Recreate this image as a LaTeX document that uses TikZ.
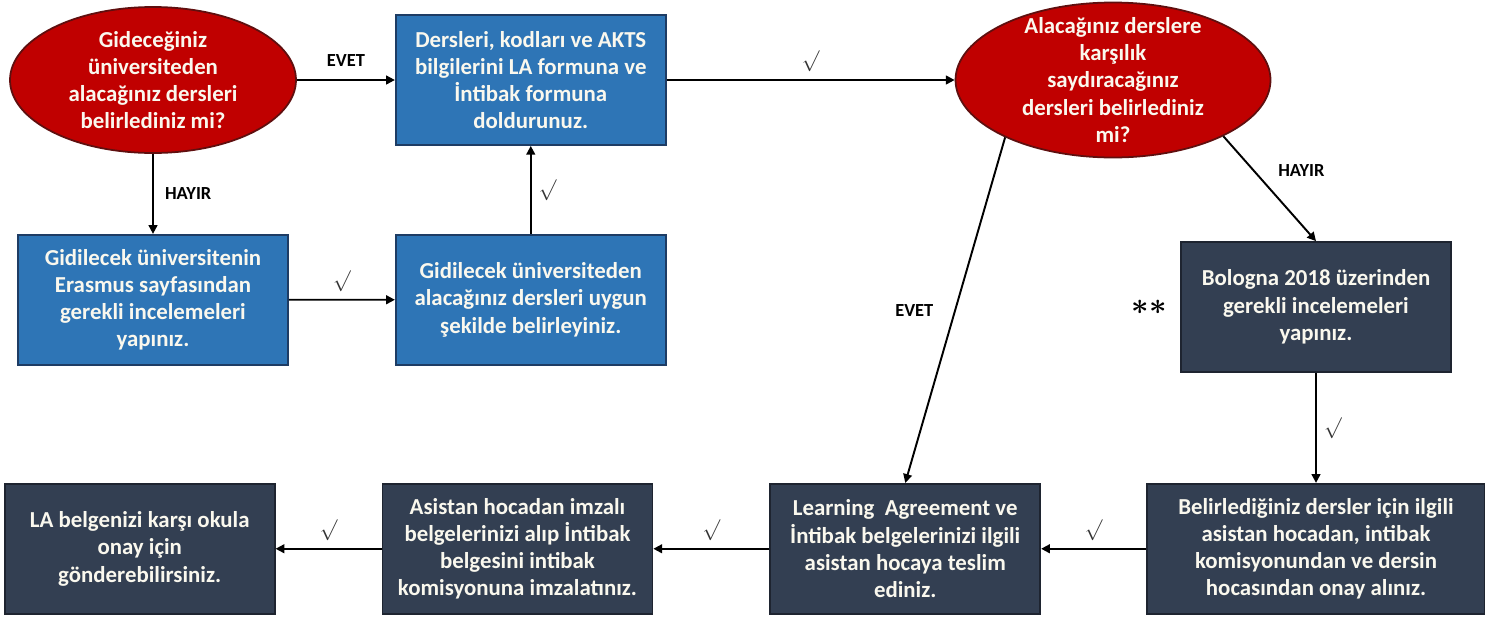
\documentclass[tikz,border=0pt]{standalone}
\usepackage{amsmath}
\usepackage{amssymb}
\usepackage{fontspec}
\setmainfont{Carlito}
\usetikzlibrary{arrows.meta,automata,positioning,shapes.geometric}
\definecolor{askred}{RGB}{192,0,0}
\definecolor{askredline}{RGB}{95,15,15}
\definecolor{stepblue}{RGB}{46,117,182}
\definecolor{stepblueline}{RGB}{30,60,100}
\definecolor{stepdark}{RGB}{51,63,82}
\definecolor{stepdarkline}{RGB}{30,36,48}
\definecolor{boxtext}{RGB}{250,248,238}
\tikzset{
  boxfont/.style={font=\bfseries\fontsize{13}{15.5}\selectfont, text=boxtext, align=center},
  ask/.style={state,ellipse,boxfont,draw=askredline,fill=askred,line width=1pt,
    inner xsep=0pt,inner ysep=-0.3cm},
  bluebox/.style={state,rectangle,boxfont,draw=stepblueline,fill=stepblue,line width=1pt,
    minimum width=5.4cm,minimum height=2.6cm,inner sep=2pt},
  darkbox/.style={state,rectangle,boxfont,draw=stepdarkline,fill=stepdark,line width=1pt,
    minimum width=5.4cm,minimum height=2.6cm,inner sep=2pt},
  answer/.style={font=\bfseries\fontsize{10.5}{12}\selectfont, text=black},
  okmark/.style={font=\fontsize{12}{12}\selectfont, text=black!80, inner sep=4pt}
}

\begin{document}
\begin{tikzpicture}[>={Triangle[length=5pt,width=5pt]}, line width=1.1pt]
   \useasboundingbox (0,0) rectangle (29.7,-12.32);
   \node[ask,minimum width=5.72cm,minimum height=2.92cm] (1) at (3.06,-1.6)
      {Gideceğiniz\\üniversiteden\\alacağınız dersleri\\belirlediniz mi?};
   \node[bluebox] (2) [right=1.96cm of 1]
      {Dersleri, kodları ve AKTS\\bilgilerini LA formuna ve\\İntibak formuna\\doldurunuz.};
   \node[ask,minimum width=6.3cm,minimum height=3.1cm] (3) [right=5.76cm of 2]
      {Alacağınız derslere\\karşılık\\saydıracağınız\\dersleri belirlediniz\\mi?};
   \node[bluebox] (4) [below=1.6cm of 1]
      {Gidilecek üniversitenin\\Erasmus sayfasından\\gerekli incelemeleri\\yapınız.};
   \node[bluebox] (5) [below=1.76cm of 2]
      {Gidilecek üniversiteden\\alacağınız dersleri uygun\\şekilde belirleyiniz.};
   \node[darkbox] (6) at (26.32,-6.14)
      {Bologna 2018 üzerinden\\gerekli incelemeleri\\yapınız.};
   \node[inner sep=0pt,font=\fontsize{17}{17}\selectfont] (stars) [left=0.25cm of 6]
      {${\boldsymbol\ast}{\boldsymbol\ast}$};
   \node[darkbox,minimum width=6.76cm] (7) [below=2.2cm of 6]
      {Belirlediğiniz dersler için ilgili\\asistan hocadan, intibak\\komisyonundan ve dersin\\hocasından onay alınız.};
   \node[darkbox] (8) [left=2.1cm of 7]
      {Learning\ \ Agreement ve\\İntibak belgelerinizi ilgili\\asistan hocaya teslim\\ediniz.};
   \node[darkbox] (9) [left=2.32cm of 8]
      {Asistan hocadan imzalı\\belgelerinizi alıp İntibak\\belgesini intibak\\komisyonuna imzalatınız.};
   \node[darkbox] (10) [left=2.12cm of 9]
      {LA belgenizi karşı okula\\onay için\\gönderebilirsiniz.};
    \path[->] (1) edge node[answer,above=4pt] {EVET} (2);
    \path[->] (1) edge node[answer,right=3pt] {HAYIR} (4);
    \path[->] (4) edge node[okmark,above] {$\surd$} (5);
    \path[->] (5) edge node[okmark,right] {$\surd$} (2);
    \path[->] (2) edge node[okmark,above] {$\surd$} (3);
    \path[->] (3.-27) edge node[answer,pos=0.33,right=0.35cm] {HAYIR} (6.north);
    \path[->] (3.-152) edge node[answer,left=0.3cm] {EVET} (8.north);
    \path[->] (6) edge node[okmark,right] {$\surd$} (7);
    \path[->] (7) edge node[okmark,above] {$\surd$} (8);
    \path[->] (8) edge node[okmark,above] {$\surd$} (9);
    \path[->] (9) edge node[okmark,above] {$\surd$} (10);
\end{tikzpicture}
\end{document}
